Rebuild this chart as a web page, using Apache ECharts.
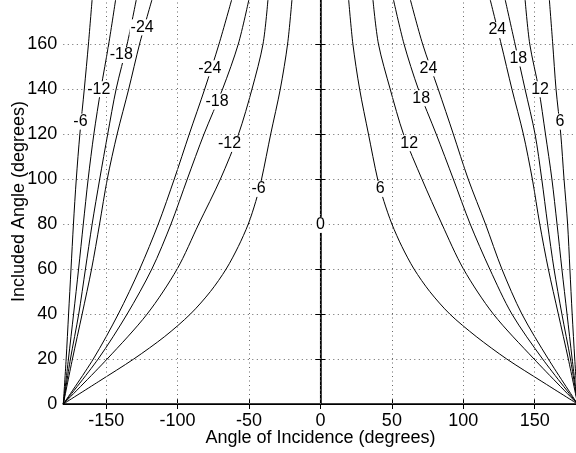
<!DOCTYPE html>
<html>
<head>
<meta charset="utf-8">
<script src="https://cdn.jsdelivr.net/npm/echarts@6/dist/echarts.min.js"></script>
<style>
  html, body { margin: 0; padding: 0; background: #fff; }
  #chart { width: 576px; height: 453px; }
</style>
</head>
<body>
<div id="chart"></div>
<script>
// Tick values
const xTicks = [-150, -100, -50, 0, 50, 100, 150];
const yTicks = [0, 20, 40, 60, 80, 100, 120, 140, 160, 180];

// Contour lines, [angle of incidence, included angle] pairs
// Negative side, steep family near -180
const outerNeg6 = [[-180,0],[-178,20],[-176.3,40],[-174.6,60],[-172.9,80],[-170.9,100],[-168.4,120],[-165.3,140],[-162.4,160],[-159.8,180]];
const outerNeg12 = [[-180,0],[-176.4,20],[-172.8,40],[-169.3,60],[-166,80],[-162.6,100],[-158.6,120],[-153.7,140],[-148.2,160],[-143.3,180]];
const outerNeg18 = [[-180,0],[-175,20],[-169.2,40],[-164.5,60],[-159.8,80],[-154.5,100],[-148.9,120],[-143,140],[-135.3,160],[-128.8,180]];
const outerNeg24 = [[-180,0],[-173.6,20],[-166.8,40],[-160.2,60],[-154.6,80],[-149.2,100],[-142.3,120],[-134.2,140],[-126.6,160],[-117.8,180]];
// Negative side, inner family
const innerNeg24 = [[-180,0],[-159,20],[-141.5,40],[-126.5,60],[-113.5,80],[-102.3,100],[-91.8,120],[-81,140],[-71,160],[-62,180]];
const innerNeg18 = [[-180,0],[-155.6,20],[-135.3,40],[-118,60],[-104.6,80],[-93.2,100],[-81.5,120],[-68.5,140],[-57.5,160],[-50,180]];
const innerNeg12 = [[-180,0],[-149.3,20],[-121.3,40],[-100.3,60],[-85.2,80],[-70,100],[-57.3,120],[-47.9,140],[-40.2,160],[-36.7,180]];
const innerNeg6 = [[-180,0],[-155.2,10],[-130.7,20],[-109,30],[-91,40],[-77,50],[-66,60],[-57.5,70],[-50.5,80],[-45.3,90],[-41.2,100],[-34.8,120],[-28.1,140],[-23,160],[-19.9,180]];
// Zero contour
const zeroLine = [[0,0],[0,180]];
// Positive side, inner family
const innerPos6 = [[180,0],[155,10],[130.4,20],[109,30],[90.5,40],[76.5,50],[65.5,60],[57,70],[50,80],[44.5,90],[40,100],[33.6,120],[27.4,140],[22.7,160],[19.7,180]];
const innerPos12 = [[180,0],[149.5,20],[121,40],[100.1,60],[85,80],[71,100],[58.1,120],[48.8,140],[40.6,160],[36.7,180]];
const innerPos18 = [[180,0],[155.5,20],[134,40],[118.5,60],[104.8,80],[93,100],[81,120],[68.5,140],[58.5,160],[51,180]];
const innerPos24 = [[180,0],[159.5,20],[141,40],[127,60],[115.5,80],[103.4,100],[93,120],[82.4,140],[71.5,160],[62.8,180]];
// Positive side, steep family near 180
const outerPos24 = [[180,0],[173.5,20],[166.5,40],[159.5,60],[153.5,80],[148.3,100],[142,120],[134,140],[126.5,160],[118.7,180]];
const outerPos18 = [[180,0],[175,20],[169,40],[163.5,60],[159,80],[154.9,100],[150.2,120],[143.2,140],[136.2,160],[129.2,180]];
const outerPos12 = [[180,0],[176.2,20],[172.6,40],[169,60],[165.6,80],[162,100],[157.5,120],[152.8,140],[146.5,160],[143.2,180]];
const outerPos6 = [[180,0],[178,20],[176.2,40],[174.6,60],[173,80],[170.5,100],[168.2,120],[164.9,140],[162.6,160],[160.2,180]];

// Inline contour labels: [x, y, text]
const contourLabels = [
  [-168, 125.5, '-6'], [-155.2, 139.9, '-12'], [-139.4, 155.1, '-18'], [-124.8, 167.4, '-24'],
  [-77.5, 149.2, '-24'], [-72.4, 134.4, '-18'], [-63.6, 115.6, '-12'], [-43.3, 95.6, '-6'],
  [0, 79.6, '0'],
  [41.8, 95.6, '6'], [62.1, 115.9, '12'], [70.5, 135.9, '18'], [75.6, 149.2, '24'],
  [123.8, 166.2, '24'], [138.5, 153.6, '18'], [153.7, 139.9, '12'], [167.7, 125.5, '6']
];

const contours = [outerNeg6, outerNeg12, outerNeg18, outerNeg24,
  innerNeg24, innerNeg18, innerNeg12, innerNeg6, zeroLine,
  innerPos6, innerPos12, innerPos18, innerPos24,
  outerPos24, outerPos18, outerPos12, outerPos6];

const FONT = 'Liberation Sans, Arial, Helvetica, sans-serif';
const gridDots = { type: [1, 3.5], color: '#666', width: 1 };

const series = [];
// Vertical dotted grid lines
series.push({
  type: 'line', data: [], z: 1, silent: true,
  markLine: {
    silent: true, symbol: 'none', animation: false,
    label: { show: false },
    lineStyle: gridDots,
    data: xTicks.map(v => ({ xAxis: v }))
  }
});
contours.forEach(pts => {
  series.push({
    type: 'line', data: pts, z: 3,
    showSymbol: false, smooth: 0.3,
    lineStyle: { color: '#000', width: 1 },
    silent: true, clip: true
  });
});
series.push({
  type: 'scatter', z: 5, symbolSize: 0, silent: true,
  data: contourLabels,
  itemStyle: { opacity: 1 },
  label: {
    show: true, position: 'inside', opacity: 1,
    formatter: p => p.value[2],
    color: '#000', fontFamily: FONT, fontSize: 16,
    textBorderWidth: 0,
    backgroundColor: '#fff', padding: [0, 1]
  }
});

const chart = echarts.init(document.getElementById('chart'), null, { renderer: 'canvas' });
chart.setOption({
  animation: false,
  backgroundColor: '#fff',
  grid: { left: 63.3, right: -1.6, top: -1, bottom: 49, containLabel: false, outerBoundsMode: 'none' },
  xAxis: [{
    type: 'value', min: -180, max: 180, position: 'bottom',
    name: 'Angle of Incidence (degrees)', nameLocation: 'middle', nameGap: 25, nameMoveOverlap: false,
    nameTextStyle: { fontFamily: FONT, fontSize: 18, color: '#000' },
    axisLine: { show: true, lineStyle: { color: '#000', width: 1.5 } },
    axisTick: { show: true, inside: true, length: 5, customValues: xTicks, lineStyle: { color: '#000' } },
    axisLabel: { customValues: xTicks, margin: 8, fontFamily: FONT, fontSize: 18, color: '#000' },
    splitLine: { show: false }
  }, {
    type: 'value', min: -180, max: 180, position: 'top',
    axisLine: { show: true, lineStyle: { color: '#000', width: 1 } },
    axisTick: { show: true, inside: true, length: 5, customValues: xTicks, lineStyle: { color: '#000' } },
    axisLabel: { show: false },
    splitLine: { show: false }
  }],
  yAxis: [{
    type: 'value', min: 0, max: 180, interval: 20, position: 'left',
    name: 'Included Angle (degrees)', nameLocation: 'middle', nameGap: 35, nameRotate: 90, nameMoveOverlap: false,
    nameTextStyle: { fontFamily: FONT, fontSize: 18, color: '#000' },
    axisLine: { show: true, lineStyle: { color: '#000', width: 1.5 } },
    axisTick: { show: true, inside: true, length: 5, lineStyle: { color: '#000' } },
    axisLabel: { margin: 6, fontFamily: FONT, fontSize: 18, color: '#000', showMaxLabel: false },
    splitLine: { show: true, lineStyle: gridDots }
  }, {
    type: 'value', min: 0, max: 180, interval: 20, position: 'right',
    axisLine: { show: true, lineStyle: { color: '#000', width: 1 } },
    axisTick: { show: true, inside: true, length: 5, lineStyle: { color: '#000' } },
    axisLabel: { show: false },
    splitLine: { show: false }
  }],
  series: series
});
</script>
</body>
</html>
